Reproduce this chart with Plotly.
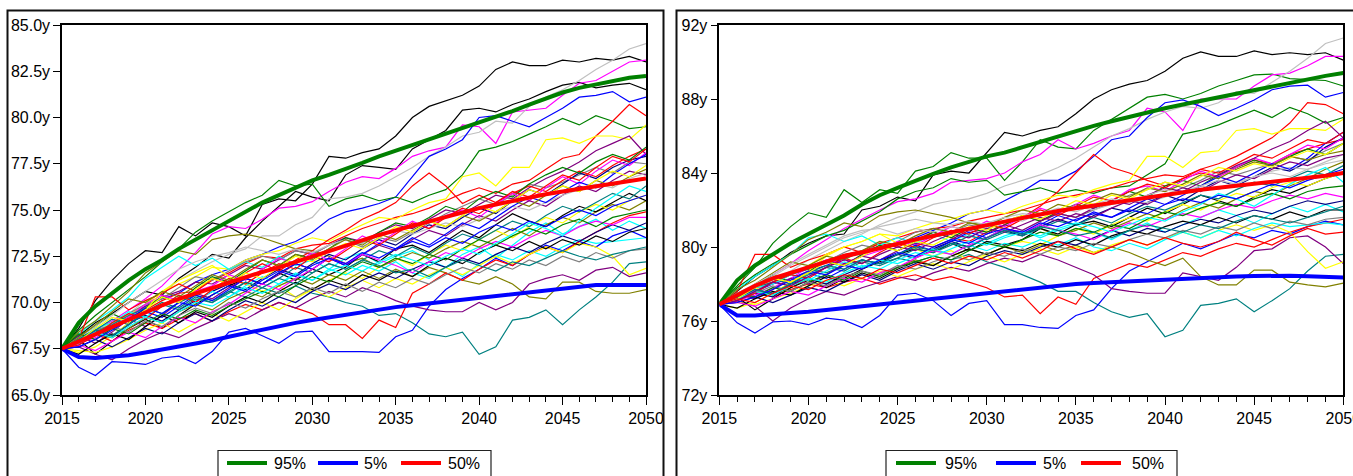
import plotly.graph_objects as go

YEARS = list(range(2015, 2051))

# ---------------- left panel: simulated paths ----------------
left_01 = [67.5, 68.6, 70.1, 71.2, 72.1, 72.8, 72.7, 74.1, 73.6, 74.3, 74.1, 73.6, 75.3, 75.6, 75.5, 76.4, 77.9, 77.8, 78.1, 78.3, 79.0, 80.0, 80.6, 80.9, 81.2, 81.7, 82.6, 83.0, 82.8, 82.8, 83.1, 83.0, 83.2, 83.1, 83.3, 83.0]
left_02 = [67.5, 68.2, 68.9, 69.4, 70.0, 70.6, 70.4, 71.3, 71.9, 72.6, 72.4, 73.5, 74.4, 75.2, 76.0, 75.7, 75.5, 76.9, 77.4, 77.3, 77.2, 78.3, 78.8, 79.3, 80.4, 80.5, 80.3, 80.7, 81.0, 81.4, 81.75, 81.9, 81.6, 81.75, 81.85, 81.5]
left_03 = [67.5, 68.0, 68.5, 69.0, 69.6, 70.2, 70.9, 71.8, 72.7, 73.7, 74.1, 74.0, 74.5, 75.1, 75.2, 75.45, 76.0, 76.5, 76.8, 76.7, 77.25, 77.9, 78.2, 78.4, 79.6, 79.5, 78.6, 80.3, 80.4, 80.5, 81.2, 81.85, 82.0, 82.5, 83.0, 83.1]
left_04 = [67.5, 67.9, 68.4, 68.8, 69.4, 70.1, 70.5, 71.2, 71.7, 72.2, 72.6, 72.9, 73.6, 73.6, 74.2, 74.6, 75.6, 75.7, 75.9, 76.3, 76.8, 77.3, 77.9, 78.4, 79.0, 79.2, 79.8, 79.7, 80.6, 81.1, 81.5, 82.0, 82.6, 83.1, 83.7, 84.0]
left_05 = [67.5, 68.0, 68.3, 68.9, 69.3, 69.8, 70.2, 70.5, 71.1, 71.5, 71.8, 72.3, 72.6, 73.0, 73.3, 73.8, 74.5, 74.9, 75.1, 75.35, 75.7, 76.8, 77.9, 78.3, 78.8, 80.0, 80.1, 79.8, 79.5, 80.0, 80.5, 81.1, 81.2, 81.4, 80.85, 81.1]
left_06 = [67.5, 68.5, 69.3, 70.0, 70.7, 71.4, 72.2, 72.9, 73.8, 74.4, 74.9, 75.4, 75.8, 76.6, 76.3, 76.4, 75.2, 75.6, 75.8, 75.5, 75.7, 75.4, 75.8, 76.1, 76.9, 78.2, 78.4, 78.7, 79.1, 79.5, 79.95, 79.6, 80.1, 79.8, 79.4, 79.5]
left_07 = [67.5, 67.9, 68.5, 68.6, 69.2, 69.6, 70.1, 70.5, 70.6, 71.2, 71.6, 72.1, 72.5, 72.4, 72.9, 73.1, 73.2, 73.6, 74.0, 74.3, 74.6, 74.8, 75.1, 75.5, 75.9, 76.2, 75.9, 76.4, 76.6, 77.2, 77.8, 78.0, 79.0, 79.8, 80.7, 80.1]
left_08 = [67.5, 67.8, 68.4, 68.9, 69.3, 69.9, 70.6, 71.0, 71.4, 71.9, 71.8, 72.3, 72.6, 72.8, 73.2, 73.5, 73.3, 73.8, 74.2, 74.6, 74.5, 75.0, 75.4, 75.6, 76.8, 77.0, 76.3, 77.3, 77.3, 78.8, 78.9, 78.6, 79.0, 79.0, 78.8, 79.6]
left_09 = [67.5, 67.9, 68.3, 68.7, 69.2, 69.8, 70.3, 70.6, 71.1, 71.0, 71.5, 72.0, 71.8, 72.3, 72.8, 72.6, 73.1, 73.5, 73.3, 73.8, 74.2, 74.0, 74.5, 75.0, 74.8, 75.3, 75.8, 75.6, 76.2, 76.7, 77.1, 77.6, 78.2, 78.6, 79.0, 78.0]
left_11 = [67.5, 68.3, 69.0, 69.6, 70.3, 71.3, 71.9, 72.5, 72.0, 72.4, 71.8, 72.2, 71.9, 72.5, 72.0, 72.3, 71.8, 72.4, 72.7, 72.1, 72.5, 72.8, 72.3, 71.9, 72.6, 73.0, 72.4, 73.1, 73.8, 74.3, 73.7, 74.1, 74.5, 73.9, 74.4, 74.0]
left_12 = [67.5, 68.4, 69.0, 69.8, 70.6, 71.6, 72.2, 72.8, 72.6, 73.4, 73.6, 73.7, 73.5, 73.2, 72.9, 72.8, 72.5, 72.1, 72.4, 71.9, 72.3, 72.7, 72.4, 72.9, 73.3, 73.0, 73.5, 74.0, 73.6, 74.2, 74.6, 74.3, 74.9, 75.3, 75.0, 75.5]
left_13 = [67.5, 67.9, 68.5, 68.8, 69.4, 69.9, 70.2, 70.8, 71.4, 71.2, 71.7, 72.2, 72.5, 72.3, 72.8, 72.6, 73.1, 73.4, 73.0, 73.5, 73.3, 73.8, 74.3, 74.8, 75.2, 75.6, 75.3, 75.8, 76.4, 76.2, 76.5, 76.9, 77.3, 77.0, 77.6, 77.5]
left_14 = [67.5, 67.7, 68.3, 68.1, 68.9, 69.3, 69.0, 69.6, 70.1, 70.6, 71.0, 70.7, 71.3, 71.8, 71.5, 72.1, 72.6, 72.3, 72.9, 73.4, 73.1, 73.7, 74.2, 74.0, 74.6, 75.1, 74.8, 75.5, 76.1, 75.8, 76.4, 77.0, 76.7, 77.3, 77.7, 77.9]
left_15 = [67.5, 68.0, 70.3, 70.3, 69.6, 70.1, 70.5, 71.0, 70.6, 71.3, 71.0, 71.6, 72.1, 71.7, 72.3, 72.8, 73.4, 73.9, 74.5, 74.9, 75.4, 76.3, 77.0, 76.3, 75.35, 75.8, 75.4, 75.9, 76.3, 76.0, 76.6, 77.1, 76.8, 77.4, 77.9, 78.3]
left_16 = [67.5, 68.2, 68.7, 69.4, 69.0, 69.7, 70.3, 70.0, 70.8, 71.4, 71.1, 71.7, 72.3, 72.0, 72.6, 72.4, 72.9, 73.5, 73.2, 73.8, 74.3, 74.1, 74.6, 75.2, 74.9, 75.6, 76.0, 75.7, 76.4, 76.9, 77.3, 77.0, 77.6, 78.0, 77.7, 78.4]
left_17 = [67.5, 68.0, 67.2, 67.9, 68.6, 69.1, 68.6, 69.3, 69.9, 70.4, 70.9, 71.3, 71.0, 71.6, 71.2, 71.8, 71.5, 71.9, 72.6, 72.2, 72.9, 73.1, 72.7, 73.3, 73.9, 73.5, 74.2, 74.8, 74.4, 74.1, 74.7, 75.2, 74.9, 75.4, 75.9, 75.5]
left_18 = [67.5, 67.8, 68.1, 68.6, 69.2, 69.9, 70.4, 70.1, 70.6, 70.9, 71.5, 71.2, 71.8, 72.4, 72.1, 72.7, 72.3, 72.9, 73.6, 73.2, 73.8, 74.4, 74.0, 74.7, 75.0, 74.6, 75.3, 75.9, 75.5, 76.2, 76.8, 76.4, 77.1, 77.7, 77.4, 78.1]
left_19 = [67.5, 67.3, 67.6, 68.2, 68.9, 69.6, 70.6, 71.2, 71.6, 72.0, 71.4, 71.0, 70.6, 70.9, 70.3, 70.7, 71.2, 71.6, 71.3, 71.9, 72.4, 72.0, 72.6, 73.1, 72.8, 73.4, 73.9, 73.5, 74.1, 74.6, 74.3, 74.9, 75.3, 75.0, 75.5, 75.8]
left_20 = [67.5, 68.0, 68.6, 68.9, 69.5, 69.2, 69.8, 70.4, 70.1, 70.6, 70.3, 70.9, 71.4, 71.0, 71.6, 71.2, 71.8, 71.5, 72.0, 71.7, 72.2, 71.6, 71.3, 71.9, 71.4, 72.1, 72.6, 72.3, 72.8, 72.5, 73.0, 73.4, 73.2, 73.3, 73.4, 73.5]
left_21 = [67.5, 68.2, 67.8, 68.4, 69.1, 68.7, 69.3, 70.0, 70.5, 70.2, 70.8, 71.3, 71.0, 71.5, 72.1, 71.8, 72.4, 72.0, 72.6, 73.1, 72.8, 73.4, 73.9, 73.6, 74.2, 74.7, 74.4, 75.0, 75.5, 75.2, 75.8, 76.3, 76.0, 76.6, 77.1, 76.9]
left_22 = [67.5, 67.8, 68.3, 68.1, 68.6, 69.2, 68.9, 69.5, 69.9, 69.6, 70.2, 70.6, 70.3, 70.9, 71.3, 71.0, 71.5, 71.2, 71.7, 71.3, 71.8, 71.4, 71.9, 71.6, 71.2, 71.0, 71.4, 71.0, 70.3, 70.2, 71.1, 71.1, 70.6, 70.5, 70.5, 70.7]
left_23 = [67.5, 68.0, 68.4, 68.8, 69.3, 69.7, 69.4, 70.0, 70.4, 70.1, 70.6, 70.3, 70.8, 70.5, 70.9, 70.5, 70.3, 70.0, 69.8, 69.3, 69.4, 68.9, 68.3, 68.15, 68.4, 67.2, 67.6, 69.05, 69.2, 69.6, 68.8, 69.6, 70.3, 71.1, 72.1, 72.2]
left_24 = [67.5, 66.5, 66.05, 66.8, 66.75, 66.65, 67.0, 67.1, 66.7, 67.35, 68.4, 68.6, 68.2, 67.8, 68.4, 68.45, 67.35, 67.35, 67.35, 67.3, 68.15, 68.5, 69.8, 70.7, 71.3, 71.8, 72.4, 72.0, 72.6, 73.1, 72.8, 73.3, 73.0, 73.6, 73.9, 73.5]
left_25 = [67.5, 67.9, 68.3, 67.9, 68.5, 68.9, 68.6, 69.1, 69.4, 69.0, 69.5, 69.9, 69.6, 70.0, 69.7, 69.4, 68.8, 68.8, 68.06, 69.05, 68.65, 70.5, 71.0, 71.6, 71.2, 71.8, 72.3, 72.0, 72.6, 73.0, 72.7, 73.3, 73.8, 74.3, 74.7, 74.9]
left_26 = [67.5, 67.6, 67.2, 66.9, 67.5, 68.0, 68.4, 68.1, 68.6, 69.0, 69.4, 69.1, 69.6, 70.0, 69.7, 70.2, 70.6, 70.3, 70.8, 70.5, 70.1, 69.8, 69.6, 69.5, 69.5, 70.0, 69.6, 70.0, 71.0, 71.3, 71.5, 71.2, 71.75, 71.9, 71.4, 71.6]
left_27 = [67.5, 67.4, 67.3, 67.6, 68.0, 68.5, 68.9, 68.4, 68.9, 69.4, 69.0, 69.5, 70.0, 69.6, 70.2, 70.7, 70.3, 70.8, 71.2, 70.8, 71.3, 71.0, 71.5, 71.9, 71.5, 72.0, 72.5, 72.1, 72.6, 73.0, 72.7, 73.2, 73.0, 72.5, 71.5, 71.85]
left_28 = [67.5, 68.1, 68.5, 69.1, 68.8, 69.4, 69.9, 69.6, 70.2, 70.0, 70.5, 71.1, 70.8, 71.3, 71.9, 71.6, 72.1, 71.8, 72.3, 72.8, 72.5, 73.0, 72.6, 73.2, 73.7, 73.4, 73.9, 74.4, 74.1, 74.7, 75.2, 74.9, 75.4, 75.9, 75.6, 76.3]
left_29 = [67.5, 67.6, 68.0, 67.6, 68.1, 68.6, 68.3, 68.9, 69.4, 69.0, 69.6, 70.1, 69.8, 70.3, 70.0, 70.6, 71.0, 70.7, 71.2, 71.6, 71.3, 71.8, 72.2, 71.9, 72.4, 72.1, 72.6, 73.0, 72.7, 73.2, 73.6, 73.3, 73.8, 74.2, 73.9, 74.3]
left_30 = [67.5, 68.1, 68.7, 69.3, 70.0, 70.6, 71.2, 71.8, 72.2, 72.5, 72.7, 73.0, 72.8, 72.6, 72.9, 72.7, 73.1, 73.4, 73.2, 73.6, 73.9, 73.7, 74.0, 74.3, 74.1, 74.5, 74.9, 75.2, 75.0, 75.4, 75.8, 76.1, 76.4, 76.2, 76.7, 77.0]
left_31 = [67.5, 67.9, 68.5, 68.2, 68.8, 69.5, 69.2, 69.8, 70.4, 70.1, 70.7, 71.3, 71.0, 71.6, 72.1, 71.8, 72.4, 72.0, 72.6, 73.2, 72.9, 73.5, 73.1, 73.7, 74.3, 74.0, 74.6, 75.2, 75.7, 75.4, 76.0, 76.5, 76.2, 76.9, 77.5, 78.0]
left_32 = [67.5, 67.2, 67.8, 68.3, 68.0, 68.7, 69.3, 68.9, 69.5, 69.2, 69.8, 70.3, 70.0, 70.6, 71.1, 70.7, 71.2, 70.9, 71.5, 71.2, 71.7, 71.4, 72.0, 72.4, 72.1, 72.7, 73.1, 72.8, 73.3, 72.9, 73.4, 73.1, 73.6, 73.3, 73.8, 74.0]
left_33 = [67.5, 67.7, 67.4, 67.9, 68.4, 68.1, 68.7, 69.2, 68.9, 69.5, 69.9, 70.5, 71.0, 70.7, 71.3, 71.8, 72.4, 72.1, 72.6, 72.3, 72.0, 71.6, 72.2, 72.7, 72.4, 72.9, 73.3, 73.0, 73.5, 73.9, 73.6, 74.1, 74.4, 74.2, 74.6, 74.6]
left_34 = [67.5, 68.3, 68.0, 68.6, 68.3, 68.9, 69.4, 69.1, 69.6, 69.3, 69.8, 70.2, 70.6, 70.3, 70.9, 71.4, 71.1, 71.7, 72.2, 71.9, 72.4, 72.1, 72.6, 72.3, 72.9, 73.4, 73.1, 73.6, 74.0, 73.7, 74.2, 74.5, 74.1, 74.6, 74.8, 75.0]
left_35 = [67.5, 67.8, 68.2, 68.7, 68.4, 69.0, 68.7, 69.3, 69.7, 69.4, 70.0, 69.7, 70.2, 70.6, 70.3, 70.8, 70.5, 71.0, 70.6, 71.1, 70.8, 71.3, 71.0, 71.5, 71.9, 71.6, 72.1, 71.8, 72.3, 72.0, 72.5, 72.2, 72.7, 72.4, 72.8, 72.9]
left_36 = [67.5, 67.7, 68.2, 68.9, 69.4, 69.1, 69.8, 70.4, 70.0, 70.7, 71.3, 71.0, 71.6, 72.1, 71.8, 72.5, 72.2, 72.8, 73.4, 73.1, 73.7, 74.3, 74.0, 74.6, 75.1, 74.8, 75.4, 76.0, 75.7, 76.3, 76.9, 76.6, 77.3, 77.9, 77.6, 78.3]
left_37 = [67.5, 67.9, 68.4, 68.1, 68.7, 69.2, 68.9, 69.5, 70.0, 69.8, 70.3, 70.8, 70.5, 71.0, 71.5, 71.2, 71.7, 72.0, 71.7, 72.2, 72.6, 72.3, 72.0, 72.5, 72.9, 72.6, 73.2, 73.7, 74.3, 74.0, 73.6, 74.4, 75.1, 75.7, 76.3, 76.0]
left_38 = [67.5, 68.1, 68.8, 69.5, 70.2, 70.0, 70.6, 70.3, 70.9, 71.5, 71.2, 71.8, 72.3, 72.0, 72.6, 72.3, 72.9, 73.4, 73.1, 73.7, 73.4, 73.9, 74.4, 74.1, 74.7, 74.4, 74.9, 75.5, 75.2, 75.8, 76.3, 76.0, 76.6, 76.3, 76.8, 77.2]
left_40 = [67.5, 68.0, 68.5, 68.2, 68.8, 69.5, 70.0, 69.7, 70.3, 70.0, 70.6, 71.1, 70.8, 71.3, 71.0, 71.6, 72.1, 71.8, 72.3, 72.0, 71.6, 71.8, 71.4, 71.9, 72.3, 72.0, 71.7, 72.2, 72.0, 72.4, 72.8, 72.5, 72.3, 72.6, 72.8, 73.0]
left_41 = [67.5, 67.6, 68.0, 68.5, 69.1, 69.7, 69.4, 70.0, 69.8, 70.4, 70.9, 70.6, 71.2, 71.7, 71.4, 72.0, 72.4, 72.1, 72.7, 72.4, 72.9, 73.3, 73.0, 73.5, 73.2, 73.8, 74.2, 73.9, 74.4, 74.1, 74.6, 75.0, 74.7, 75.2, 75.5, 75.8]
left_42 = [67.5, 67.9, 68.6, 69.2, 69.0, 69.6, 70.3, 70.0, 70.7, 71.3, 71.0, 71.6, 71.3, 71.9, 72.5, 72.2, 72.8, 73.2, 72.9, 73.5, 74.1, 73.8, 74.4, 74.1, 74.7, 75.2, 74.9, 75.5, 76.1, 75.8, 76.3, 76.0, 76.6, 77.1, 76.8, 77.4]

# left panel percentile bands
left_p95 = [67.5, 68.9, 69.8, 70.5, 71.2, 71.8, 72.3, 72.9, 73.4, 73.9, 74.4, 74.9, 75.4, 75.8, 76.2, 76.6, 76.9, 77.2, 77.55, 77.9, 78.2, 78.5, 78.8, 79.1, 79.4, 79.7, 80.0, 80.35, 80.7, 81.05, 81.35, 81.6, 81.8, 82.0, 82.15, 82.25]
left_p05 = [67.5, 67.05, 67.0, 67.05, 67.15, 67.3, 67.45, 67.6, 67.75, 67.95, 68.15, 68.35, 68.55, 68.75, 68.9, 69.05, 69.2, 69.35, 69.5, 69.6, 69.75, 69.85, 69.95, 70.05, 70.15, 70.3, 70.4, 70.5, 70.6, 70.7, 70.8, 70.9, 70.95, 70.95, 70.95, 70.95]
left_p50 = [67.5, 67.9, 68.3, 68.7, 69.1, 69.5, 69.85, 70.2, 70.5, 70.8, 71.1, 71.4, 71.65, 71.9, 72.2, 72.5, 72.8, 73.1, 73.4, 73.65, 73.9, 74.15, 74.4, 74.65, 74.9, 75.1, 75.3, 75.5, 75.7, 75.85, 76.0, 76.15, 76.3, 76.45, 76.6, 76.7]

# ---------------- right panel: simulated paths ----------------
right_01 = [76.9, 77.6, 78.4, 79.0, 79.7, 80.2, 80.6, 80.7, 82.0, 82.2, 82.7, 82.5, 83.9, 84.1, 84.0, 85.1, 86.2, 86.0, 86.3, 86.5, 87.2, 88.0, 88.5, 88.8, 89.0, 89.5, 90.2, 90.55, 90.3, 90.3, 90.6, 90.4, 90.5, 90.4, 90.5, 90.1]
right_02 = [76.9, 77.9, 78.9, 80.2, 81.1, 81.85, 81.6, 83.1, 82.4, 83.1, 82.9, 84.1, 84.35, 85.1, 84.8, 84.8, 83.6, 84.6, 85.8, 85.4, 85.3, 86.3, 86.9, 87.5, 88.1, 88.25, 88.0, 88.3, 88.7, 89.0, 89.3, 89.35, 89.1, 89.05, 89.0, 88.7]
right_03 = [76.9, 77.4, 77.9, 78.5, 79.1, 79.8, 80.4, 81.0, 81.5, 82.0, 82.45, 82.6, 82.9, 83.5, 83.6, 83.7, 84.0, 84.6, 85.0, 85.8, 85.3, 85.6, 86.0, 86.3, 87.5, 87.3, 86.3, 88.0, 88.0, 88.0, 88.7, 89.3, 89.4, 89.8, 90.3, 90.3]
right_04 = [76.9, 77.3, 77.8, 78.2, 78.7, 79.3, 79.8, 80.3, 80.7, 81.2, 81.6, 81.9, 82.3, 82.5, 82.6, 82.9, 83.3, 83.6, 83.9, 84.3, 84.8, 85.4, 86.0, 86.4, 86.9, 87.3, 87.6, 87.5, 87.8, 88.4, 88.3, 88.9, 89.5, 90.2, 91.0, 91.3]
right_05 = [76.9, 77.3, 77.6, 78.0, 78.3, 78.7, 79.0, 79.4, 79.7, 80.0, 80.2, 80.5, 80.9, 81.3, 81.8, 82.0, 82.5, 83.0, 83.6, 83.6, 84.1, 84.9, 85.8, 86.0, 87.0, 87.8, 87.95, 87.6, 87.1, 87.5, 87.95, 88.5, 88.7, 88.75, 88.1, 88.35]
right_06 = [76.9, 77.8, 78.5, 79.1, 79.6, 80.1, 80.6, 80.9, 81.4, 81.9, 82.6, 83.0, 83.2, 83.7, 83.5, 83.6, 82.8, 83.0, 83.2, 82.9, 83.1, 82.9, 83.2, 83.3, 83.9, 84.5, 86.1, 86.3, 86.6, 87.0, 87.4, 87.0, 87.55, 87.2, 86.7, 87.0]
right_07 = [76.9, 77.3, 77.8, 78.1, 78.6, 78.9, 79.3, 79.6, 79.8, 80.2, 80.5, 80.8, 81.0, 81.1, 81.4, 81.6, 81.8, 82.0, 82.3, 82.6, 82.8, 83.0, 83.2, 83.5, 83.7, 83.9, 83.8, 84.2, 84.5, 84.9, 85.4, 85.9, 86.7, 87.8, 87.7, 87.2]
right_08 = [76.9, 77.6, 79.6, 79.6, 78.9, 79.3, 79.6, 80.0, 79.7, 80.2, 80.0, 80.4, 80.8, 80.5, 80.3, 80.8, 81.2, 81.6, 82.2, 83.0, 84.0, 85.0, 84.3, 84.0, 83.6, 83.3, 83.7, 84.0, 83.8, 84.3, 84.7, 84.5, 85.0, 85.3, 85.6, 85.8]
right_09 = [76.9, 77.2, 77.7, 78.1, 78.5, 79.0, 79.6, 80.0, 80.3, 80.7, 80.6, 81.0, 81.3, 81.5, 81.8, 82.0, 81.8, 82.2, 82.5, 82.8, 82.7, 83.1, 83.4, 83.6, 84.9, 84.9, 84.3, 85.1, 85.2, 86.3, 86.4, 86.1, 86.4, 86.4, 86.3, 86.9]
right_10 = [76.9, 77.4, 77.8, 78.1, 78.5, 78.8, 78.6, 79.0, 79.3, 79.1, 79.4, 79.2, 79.5, 79.3, 79.6, 79.2, 78.9, 78.5, 78.1, 77.6, 77.6, 77.0, 76.5, 76.2, 76.4, 75.15, 75.5, 76.85, 76.95, 77.2, 76.5, 77.1, 77.75, 78.7, 79.5, 79.6]
right_11 = [76.9, 75.9, 75.35, 75.95, 76.0, 75.8, 76.15, 76.05, 75.65, 76.3, 77.4, 77.5, 77.1, 76.3, 76.95, 77.1, 75.8, 75.8, 75.65, 75.6, 76.3, 76.6, 77.75, 78.7, 79.2, 79.7, 80.2, 79.9, 80.3, 80.7, 80.5, 80.9, 80.7, 81.1, 81.4, 81.2]
right_12 = [76.9, 77.3, 77.6, 77.3, 77.7, 78.0, 77.8, 78.1, 78.3, 78.0, 78.3, 78.5, 78.2, 78.4, 78.1, 77.8, 77.3, 77.4, 76.4, 77.3, 76.9, 78.3, 78.7, 79.1, 78.9, 79.3, 79.7, 79.5, 79.9, 80.2, 80.0, 80.4, 80.8, 81.1, 81.3, 81.5]
right_13 = [76.9, 77.1, 76.8, 76.0, 76.7, 77.2, 77.6, 77.4, 77.8, 78.1, 78.4, 78.2, 78.6, 78.9, 78.7, 79.1, 79.4, 79.2, 79.6, 79.3, 78.9, 78.5, 77.75, 77.6, 77.5, 77.5, 78.6, 78.4, 78.2, 78.9, 79.8, 79.9, 80.5, 80.6, 80.0, 79.1]
right_14 = [76.9, 77.3, 77.7, 77.4, 77.8, 78.3, 78.0, 78.4, 78.7, 78.4, 78.9, 79.3, 79.0, 79.5, 79.9, 79.6, 80.0, 79.7, 80.1, 79.8, 80.1, 79.7, 80.0, 79.7, 79.3, 79.0, 79.4, 78.4, 77.95, 77.95, 78.75, 78.75, 78.1, 77.95, 77.85, 78.05]
right_15 = [76.9, 77.0, 76.9, 77.2, 77.5, 77.9, 78.2, 77.9, 78.3, 78.7, 78.4, 78.8, 79.1, 78.8, 79.2, 79.5, 79.2, 79.6, 79.9, 79.6, 80.0, 79.7, 80.1, 80.4, 80.1, 80.5, 80.8, 80.5, 80.9, 81.2, 80.9, 81.2, 80.8, 79.75, 78.85, 79.2]
right_16 = [76.9, 77.7, 78.4, 79.0, 79.6, 80.5, 80.7, 80.3, 80.6, 80.1, 80.5, 80.2, 80.7, 80.3, 80.7, 80.2, 80.6, 80.9, 80.5, 80.9, 81.2, 80.8, 80.4, 80.9, 81.3, 80.8, 81.2, 81.6, 82.0, 81.7, 81.3, 81.8, 82.2, 81.9, 82.3, 81.9]
right_17 = [76.9, 77.7, 78.2, 78.9, 79.6, 80.4, 80.8, 81.3, 81.1, 81.7, 81.9, 82.0, 81.8, 81.6, 81.3, 81.2, 81.0, 80.7, 81.0, 80.6, 80.9, 81.3, 81.0, 81.4, 81.8, 81.5, 82.0, 82.4, 82.1, 82.6, 83.0, 82.8, 83.3, 83.7, 84.2, 84.6]
right_18 = [76.9, 77.3, 77.8, 78.0, 78.5, 79.0, 79.2, 79.7, 80.1, 79.9, 80.3, 80.8, 81.0, 80.8, 81.2, 81.0, 81.4, 81.7, 81.4, 81.8, 81.6, 82.0, 82.4, 82.8, 83.1, 83.5, 83.2, 83.6, 84.1, 83.9, 84.2, 84.5, 84.9, 84.7, 85.2, 85.6]
right_19 = [76.9, 77.1, 77.5, 77.3, 78.0, 78.3, 78.0, 78.5, 78.9, 79.3, 79.6, 79.4, 79.9, 80.3, 80.0, 80.5, 80.9, 80.6, 81.1, 81.5, 81.2, 81.7, 82.1, 81.9, 82.4, 82.8, 82.5, 83.1, 83.6, 83.3, 83.8, 84.3, 84.1, 84.6, 85.4, 85.9]
right_20 = [76.9, 77.5, 77.9, 78.5, 78.1, 78.7, 79.2, 79.0, 79.6, 80.1, 79.8, 80.3, 80.8, 80.5, 81.0, 80.8, 81.2, 81.7, 81.4, 81.9, 82.3, 82.1, 82.5, 83.0, 82.7, 83.3, 83.6, 83.3, 83.9, 84.3, 84.7, 84.4, 84.9, 85.3, 85.0, 85.6]
right_21 = [76.9, 77.3, 76.6, 77.2, 77.8, 78.2, 77.8, 78.3, 78.8, 79.2, 79.6, 79.9, 79.7, 80.2, 79.8, 80.3, 80.1, 80.4, 81.0, 80.7, 81.2, 81.4, 81.1, 81.6, 82.1, 81.8, 82.3, 82.8, 82.5, 82.2, 82.7, 83.1, 82.9, 83.3, 83.7, 84.0]
right_22 = [76.9, 77.1, 77.4, 77.8, 78.3, 78.9, 79.3, 79.1, 79.5, 79.8, 80.3, 80.1, 80.6, 81.1, 80.9, 81.4, 81.1, 81.6, 82.1, 81.8, 82.3, 82.8, 82.5, 83.1, 83.3, 83.0, 83.6, 84.1, 83.8, 84.3, 84.8, 84.5, 85.0, 85.5, 85.3, 85.9]
right_23 = [76.9, 76.7, 77.0, 77.5, 78.1, 78.7, 79.5, 80.0, 80.3, 80.7, 80.2, 79.9, 79.5, 79.8, 79.3, 79.6, 80.0, 80.3, 80.1, 80.6, 81.0, 80.7, 81.2, 81.6, 81.4, 81.9, 82.3, 82.0, 82.5, 82.9, 82.7, 83.2, 83.5, 83.3, 83.7, 84.0]
right_24 = [76.9, 77.5, 77.2, 77.7, 78.3, 78.0, 78.5, 79.1, 79.5, 79.3, 79.8, 80.2, 80.0, 80.4, 80.9, 80.7, 81.2, 80.9, 81.4, 81.8, 81.6, 82.1, 82.5, 82.3, 82.8, 83.2, 83.0, 83.5, 83.9, 84.4, 84.8, 85.3, 85.7, 86.3, 86.8, 85.9]
right_25 = [76.9, 77.4, 77.8, 78.3, 78.0, 78.5, 78.9, 78.7, 79.2, 79.0, 79.4, 79.9, 79.7, 80.1, 80.6, 80.4, 80.8, 80.6, 81.0, 81.4, 81.2, 81.6, 81.3, 81.8, 82.2, 82.0, 82.4, 82.8, 82.6, 83.1, 83.5, 83.3, 83.7, 84.1, 83.9, 84.4]
right_26 = [76.9, 77.4, 77.9, 78.4, 79.0, 79.5, 80.0, 80.5, 80.8, 81.1, 81.3, 81.5, 81.3, 81.2, 81.4, 81.2, 81.6, 81.8, 81.7, 82.0, 82.2, 82.0, 82.3, 82.5, 82.4, 82.7, 83.0, 83.3, 83.1, 83.5, 83.8, 84.1, 84.3, 84.2, 84.6, 85.0]
right_27 = [76.9, 77.2, 77.7, 77.5, 78.0, 78.6, 78.3, 78.8, 79.3, 79.1, 79.6, 80.1, 79.8, 80.3, 80.8, 80.5, 81.0, 80.7, 81.2, 81.7, 81.4, 81.9, 81.6, 82.1, 82.6, 82.3, 82.8, 83.3, 83.8, 83.5, 84.0, 84.5, 84.2, 84.8, 85.6, 86.2]
right_28 = [76.9, 77.3, 77.8, 78.0, 78.5, 78.2, 78.7, 79.2, 78.9, 79.3, 79.1, 79.5, 79.9, 79.6, 80.1, 79.8, 80.2, 80.0, 80.4, 80.1, 80.5, 80.0, 79.8, 80.2, 79.9, 80.4, 80.8, 80.5, 80.9, 80.6, 81.0, 81.3, 81.1, 81.2, 81.3, 81.2]
right_29 = [76.9, 77.0, 77.3, 77.0, 77.4, 77.8, 77.6, 78.1, 78.5, 78.2, 78.7, 79.1, 78.8, 79.2, 79.0, 79.5, 79.8, 79.6, 80.0, 80.3, 80.1, 80.5, 80.9, 80.6, 81.0, 80.8, 81.2, 81.5, 81.3, 81.7, 82.0, 81.8, 82.2, 82.5, 82.3, 82.5]
right_30 = [76.9, 76.7, 77.2, 77.6, 77.4, 77.9, 78.4, 78.1, 78.6, 78.3, 78.8, 79.2, 79.0, 79.5, 79.9, 79.6, 80.0, 79.8, 80.2, 80.0, 80.4, 80.1, 80.6, 80.9, 80.7, 81.1, 81.4, 81.2, 81.6, 81.3, 81.7, 81.5, 81.9, 81.6, 82.0, 82.0]
right_31 = [76.9, 77.0, 76.8, 77.2, 77.6, 77.4, 77.9, 78.3, 78.1, 78.6, 78.9, 79.4, 79.8, 79.6, 80.1, 80.5, 81.0, 80.8, 81.2, 80.9, 80.7, 80.4, 80.9, 81.3, 81.1, 81.5, 81.8, 81.6, 82.0, 82.3, 82.1, 82.5, 82.8, 82.6, 82.9, 82.7]
right_32 = [76.9, 77.5, 77.3, 77.8, 77.6, 78.1, 78.5, 78.2, 78.7, 78.4, 78.9, 79.2, 79.5, 79.3, 79.8, 80.2, 80.0, 80.4, 80.8, 80.6, 81.0, 80.8, 81.2, 81.0, 81.5, 81.9, 81.7, 82.1, 82.4, 82.2, 82.6, 82.9, 82.6, 83.0, 83.2, 83.3]
right_33 = [76.9, 77.2, 77.5, 77.9, 77.6, 78.1, 77.9, 78.4, 78.7, 78.5, 79.0, 78.8, 79.2, 79.5, 79.3, 79.7, 79.5, 79.9, 79.6, 80.0, 79.8, 80.2, 80.0, 80.4, 80.7, 80.5, 80.9, 80.7, 81.1, 80.9, 81.3, 81.0, 81.4, 81.2, 81.5, 81.6]
right_34 = [76.9, 77.1, 77.5, 78.1, 78.5, 78.3, 78.9, 79.4, 79.1, 79.7, 80.2, 80.0, 80.5, 80.9, 80.7, 81.2, 81.0, 81.5, 82.0, 81.7, 82.2, 82.7, 82.5, 83.0, 83.4, 83.2, 83.7, 84.2, 84.0, 84.5, 85.0, 84.8, 85.3, 85.8, 85.6, 86.2]
right_35 = [76.9, 77.2, 77.6, 77.4, 77.9, 78.3, 78.1, 78.6, 79.0, 78.8, 79.3, 79.7, 79.5, 79.9, 80.3, 80.1, 80.5, 80.8, 80.6, 81.0, 81.3, 81.1, 80.8, 81.2, 81.6, 81.4, 81.9, 82.3, 82.9, 82.6, 82.2, 82.8, 83.4, 83.9, 84.3, 83.5]
right_36 = [76.9, 77.4, 78.0, 78.6, 79.2, 79.0, 79.5, 79.3, 79.8, 80.3, 80.1, 80.6, 81.0, 80.8, 81.3, 81.1, 81.6, 82.0, 81.8, 82.3, 82.1, 82.5, 82.9, 82.7, 83.2, 83.0, 83.4, 83.9, 83.7, 84.2, 84.6, 84.4, 84.9, 84.7, 85.0, 85.2]
right_37 = [76.9, 77.1, 77.6, 78.1, 77.9, 78.4, 78.9, 79.3, 79.1, 79.6, 80.0, 79.8, 80.3, 80.7, 80.5, 81.0, 80.8, 81.2, 81.6, 81.4, 81.8, 81.6, 82.1, 82.5, 82.3, 82.8, 83.2, 83.0, 83.5, 83.9, 83.7, 84.2, 84.6, 84.4, 84.8, 85.0]
right_38 = [76.9, 77.3, 77.7, 77.5, 78.0, 78.6, 79.0, 78.8, 79.3, 79.1, 79.6, 80.0, 79.8, 80.2, 80.0, 80.5, 80.9, 80.7, 81.1, 80.9, 80.6, 80.8, 80.5, 80.9, 81.2, 81.0, 80.8, 81.2, 81.0, 81.4, 81.7, 81.5, 81.3, 81.6, 81.9, 82.2]
right_39 = [76.9, 77.0, 77.3, 77.7, 78.2, 78.7, 78.5, 79.0, 78.8, 79.3, 79.7, 79.5, 80.0, 80.4, 80.2, 80.7, 81.0, 80.8, 81.3, 81.1, 81.5, 81.8, 81.6, 82.0, 81.8, 82.3, 82.6, 82.4, 82.8, 82.6, 83.0, 83.4, 83.2, 83.6, 83.9, 84.2]
right_40 = [76.9, 77.2, 77.8, 78.3, 78.1, 78.6, 79.2, 79.0, 79.5, 80.0, 79.8, 80.3, 80.1, 80.6, 81.1, 80.9, 81.4, 81.7, 81.5, 82.0, 82.5, 82.3, 82.8, 82.6, 83.1, 83.5, 83.3, 83.8, 84.3, 84.1, 84.5, 84.3, 84.8, 85.2, 85.0, 85.6]
right_41 = [76.9, 77.2, 77.0, 77.5, 77.9, 77.7, 78.2, 78.5, 78.3, 78.8, 78.6, 79.0, 79.4, 79.1, 79.5, 79.3, 79.7, 79.4, 79.8, 80.3, 79.9, 79.6, 80.0, 80.4, 80.1, 80.5, 80.2, 80.0, 80.3, 80.8, 80.4, 80.1, 80.6, 81.0, 80.7, 80.8]
right_42 = [76.9, 77.5, 78.0, 78.5, 79.1, 79.6, 80.1, 80.6, 80.9, 81.0, 80.7, 81.0, 80.8, 81.1, 80.9, 81.3, 81.6, 81.4, 81.8, 82.1, 81.9, 82.3, 82.6, 82.4, 82.8, 83.1, 82.9, 83.3, 83.6, 83.4, 83.8, 84.0, 83.8, 84.2, 84.5, 84.7]

# right panel percentile bands
right_p95 = [76.9, 78.2, 79.0, 79.6, 80.2, 80.7, 81.2, 81.7, 82.3, 82.8, 83.2, 83.6, 83.95, 84.3, 84.6, 84.9, 85.1, 85.4, 85.7, 86.0, 86.3, 86.55, 86.8, 87.05, 87.3, 87.5, 87.7, 87.9, 88.1, 88.3, 88.5, 88.7, 88.9, 89.1, 89.25, 89.4]
right_p05 = [76.9, 76.3, 76.3, 76.35, 76.4, 76.5, 76.6, 76.7, 76.8, 76.9, 77.0, 77.1, 77.2, 77.3, 77.4, 77.5, 77.65, 77.75, 77.85, 77.95, 78.0, 78.05, 78.1, 78.15, 78.2, 78.25, 78.3, 78.35, 78.38, 78.4, 78.43, 78.45, 78.45, 78.42, 78.38, 78.35]
right_p50 = [76.9, 77.4, 77.9, 78.3, 78.6, 78.9, 79.2, 79.5, 79.7, 79.95, 80.15, 80.4, 80.6, 80.8, 81.0, 81.2, 81.4, 81.6, 81.8, 81.95, 82.1, 82.25, 82.4, 82.55, 82.7, 82.85, 83.0, 83.1, 83.2, 83.3, 83.45, 83.55, 83.65, 83.75, 83.85, 84.0]

# axis ticks and labels
X_TICK0, X_DTICK = 2015, 5
LEFT_YTICKS = [65.0, 67.5, 70.0, 72.5, 75.0, 77.5, 80.0, 82.5, 85.0]
LEFT_YTEXT = ["65.0y", "67.5y", "70.0y", "72.5y", "75.0y", "77.5y", "80.0y", "82.5y", "85.0y"]
RIGHT_YTICKS = [72, 76, 80, 84, 88, 92]
RIGHT_YTEXT = ["72y", "76y", "80y", "84y", "88y", "92y"]
BAND_LABELS = ["95%", "5%", "50%"]

# line colours
BLACK, GREEN, BLUE, RED = "#000000", "#008000", "#0000FF", "#FF0000"
MAGENTA, SILVER, YELLOW, CYAN = "#FF00FF", "#C0C0C0", "#FFFF00", "#00FFFF"
PURPLE, OLIVE, TEAL, NAVY, GRAY = "#800080", "#808000", "#008080", "#000080", "#808080"

LEFT_PATHS = [left_01, left_02, left_03, left_04, left_05, left_06, left_07, left_08, left_09,
              left_11, left_12, left_13, left_14, left_15, left_16, left_17, left_18, left_19,
              left_20, left_21, left_22, left_23, left_24, left_25, left_26, left_27, left_28,
              left_29, left_30, left_31, left_32, left_33, left_34, left_35, left_36, left_37,
              left_38, left_40, left_41, left_42]
LEFT_COLORS = [BLACK, BLACK, MAGENTA, SILVER, BLUE, GREEN, RED, YELLOW, PURPLE,
               CYAN, OLIVE, GRAY, NAVY, RED, GREEN, BLACK, MAGENTA, YELLOW,
               CYAN, PURPLE, OLIVE, TEAL, BLUE, RED, PURPLE, YELLOW, TEAL,
               NAVY, SILVER, BLUE, BLACK, MAGENTA, GREEN, GRAY, RED, CYAN,
               OLIVE, TEAL, BLUE, YELLOW]
RIGHT_PATHS = [right_01, right_02, right_03, right_04, right_05, right_06, right_07, right_08,
               right_09, right_10, right_11, right_12, right_13, right_14, right_15, right_16,
               right_17, right_18, right_19, right_20, right_21, right_22, right_23, right_24,
               right_25, right_26, right_27, right_28, right_29, right_30, right_31, right_32,
               right_33, right_34, right_35, right_36, right_37, right_38, right_39, right_40,
               right_41, right_42]
RIGHT_COLORS = [BLACK, GREEN, MAGENTA, SILVER, BLUE, GREEN, RED, RED,
                YELLOW, TEAL, BLUE, RED, PURPLE, OLIVE, YELLOW, CYAN,
                OLIVE, GRAY, NAVY, GREEN, BLACK, MAGENTA, YELLOW, PURPLE,
                TEAL, SILVER, BLUE, CYAN, NAVY, BLACK, MAGENTA, GREEN,
                GRAY, RED, CYAN, OLIVE, PURPLE, TEAL, BLUE, YELLOW,
                RED, SILVER]

W, H = 1353, 476
FONT = "Liberation Sans, Arial, sans-serif"


def px(x):
    return x / W


def py(y):
    return 1 - y / H


fig = go.Figure()

for axis_x, axis_y, paths, colors, bands in [
    ("x", "y", LEFT_PATHS, LEFT_COLORS, (left_p95, left_p05, left_p50)),
    ("x2", "y2", RIGHT_PATHS, RIGHT_COLORS, (right_p95, right_p05, right_p50)),
]:
    for vals, col in zip(paths, colors):
        fig.add_trace(go.Scatter(x=YEARS, y=vals, mode="lines", xaxis=axis_x, yaxis=axis_y,
                                 line=dict(color=col, width=1.2), showlegend=False, hoverinfo="skip"))
    for vals, col, name in zip(bands, [GREEN, BLUE, RED], BAND_LABELS):
        fig.add_trace(go.Scatter(x=YEARS, y=vals, mode="lines", xaxis=axis_x, yaxis=axis_y, name=name,
                                 line=dict(color=col, width=4), showlegend=False, hoverinfo="skip"))

tickfont = dict(family=FONT, size=16, color="black")
axis_common = dict(showline=True, linecolor="black", linewidth=1.5, mirror=True, showgrid=False,
                   zeroline=False, ticks="outside", tickcolor="black", tickwidth=1,
                   tickfont=tickfont, automargin=False, fixedrange=True, ticklabeloverflow="allow")
xaxis_common = dict(range=[2015, 2050], tickmode="linear", tick0=X_TICK0, dtick=X_DTICK, ticklen=8,
                    minor=dict(tickmode="linear", tick0=X_TICK0, dtick=1, ticks="outside", ticklen=5,
                               tickcolor="black", tickwidth=1),
                    **axis_common)
ydomain = [py(395), py(25)]

fig.update_layout(
    width=W, height=H, autosize=False,
    margin=dict(l=0, r=0, t=0, b=0),
    paper_bgcolor="white", plot_bgcolor="white",
    font=dict(family=FONT, size=16, color="black"),
    xaxis=dict(domain=[px(62), px(646)], anchor="y", **xaxis_common),
    yaxis=dict(domain=ydomain, anchor="x", range=[65, 85], tickmode="array",
               tickvals=LEFT_YTICKS, ticktext=LEFT_YTEXT, ticklen=7, **axis_common),
    xaxis2=dict(domain=[px(719.3), px(1343.3)], anchor="y2", **xaxis_common),
    yaxis2=dict(domain=ydomain, anchor="x2", range=[72, 92], tickmode="array",
                tickvals=RIGHT_YTICKS, ticktext=RIGHT_YTEXT, ticklen=7, **axis_common),
    showlegend=False,
)

shapes = []
# panel frames
for x0, x1 in [(7.5, 663.5), (676.5, 1400)]:
    shapes.append(dict(type="rect", xref="paper", yref="paper", x0=px(x0), x1=px(x1),
                       y0=py(10.5), y1=py(520), line=dict(color="#111111", width=2), layer="above"))

# legend boxes and keys
legend_specs = [
    # box left, box right, key starts, text starts
    (218, 491, [227, 318, 401], [273, 363, 447]),
    (886, 1177, [896, 996, 1081], [944, 1042, 1131]),
]
annotations = []
for bx0, bx1, keys, texts in legend_specs:
    shapes.append(dict(type="rect", xref="paper", yref="paper", x0=px(bx0), x1=px(bx1),
                       y0=py(450.5), y1=py(520), line=dict(color="#222222", width=1.2),
                       fillcolor="white", layer="above"))
    for k, t, col, label in zip(keys, texts, [GREEN, BLUE, RED], BAND_LABELS):
        shapes.append(dict(type="line", xref="paper", yref="paper", x0=px(k), x1=px(k + 40),
                           y0=py(463), y1=py(463), line=dict(color=col, width=4), layer="above"))
        annotations.append(dict(xref="paper", yref="paper", x=px(t - 1), y=py(463.5), text=label,
                                showarrow=False, xanchor="left", yanchor="middle",
                                font=dict(family=FONT, size=16, color="black")))

fig.update_layout(shapes=shapes, annotations=annotations)

fig.write_html("out.html")
